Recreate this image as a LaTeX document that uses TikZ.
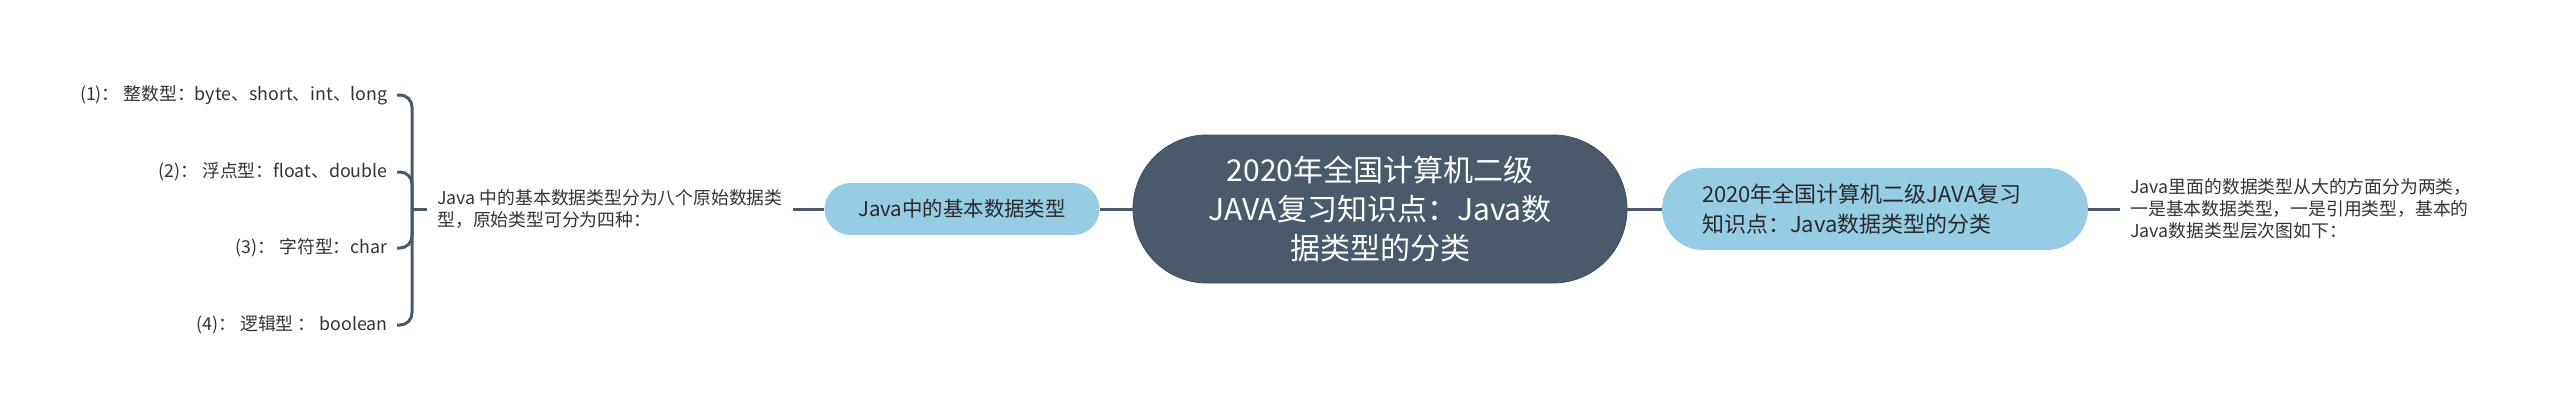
\documentclass[tikz,border=0pt]{standalone}
\usepackage{fontspec}
\setmainfont{Noto Sans CJK SC}
\usepackage{tikz}
\usetikzlibrary{positioning}
\definecolor{slate}{HTML}{4A5A6A}
\definecolor{skyblue}{HTML}{96CCE4}
\definecolor{inkgray}{HTML}{333333}
\newcommand{\smalltxt}{\fontsize{8.9}{11.1}\selectfont}
\tikzset{
  topic/.style={fill=slate,draw=slate!85!black,text=white,rounded corners=37pt,
    minimum width=247pt,minimum height=74pt,align=center,
    font=\fontsize{15}{19.3}\selectfont},
  subtopic/.style={fill=skyblue,text=inkgray!80!black,align=left},
  leaf/.style={text=inkgray,align=left,font=\smalltxt},
  branch/.style={draw=slate,line width=1.5pt},
}
\begin{document}
\begin{tikzpicture}[x=0.5pt,y=-0.5pt]
        \useasboundingbox (0,0) rectangle (2560,419);
        \node[topic] (main) at (1380,209) {2020年全国计算机二级\\JAVA复习知识点：Java数\\据类型的分类};
        \node[subtopic,rounded corners=13pt,minimum width=137.5pt,minimum height=26pt,
          font=\fontsize{10.2}{12}\selectfont] (basic) at (962,209) {Java中的基本数据类型};
        \node[subtopic,rounded corners=20.5pt,text width=173pt,inner xsep=20pt,minimum height=41pt,
          font=\fontsize{11}{15}\selectfont] (kinds) at (1875,209) {2020年全国计算机二级JAVA复习\\知识点：Java数据类型的分类};
        \node[leaf,anchor=west,inner xsep=5pt] (eight) at (427,209) {Java 中的基本数据类型分为八个原始数据类\\型，原始类型可分为四种：};
        \node[leaf,anchor=west,inner xsep=5pt] (twokinds) at (2120,209) {Java里面的数据类型从大的方面分为两类，\\一是基本数据类型，一是引用类型，基本的\\Java数据类型层次图如下：};
        \node[leaf,anchor=east,inner xsep=4.5pt] (int) at (397,95) {(1)： 整数型：byte、short、int、long};
        \node[leaf,anchor=east,inner xsep=4.5pt] (float) at (397,172) {(2)： 浮点型：float、double};
        \node[leaf,anchor=east,inner xsep=4.5pt] (char) at (397,248) {(3)： 字符型：char};
        \node[leaf,anchor=east,inner xsep=4.5pt] (bool) at (397,325) {(4)： 逻辑型 ： boolean};
        \coordinate (fork) at (412,209);

        \draw[branch] (main.west) -- (basic.east);
        \draw[branch] (basic.west) -- (eight.east);
        \draw[branch] (eight.west) -- (fork);
        \draw[branch,rounded corners=6pt] (fork) |- (int.east);
        \draw[branch,rounded corners=6pt] (fork) |- (float.east);
        \draw[branch,rounded corners=6pt] (fork) |- (char.east);
        \draw[branch,rounded corners=6pt] (fork) |- (bool.east);
        \draw[branch] (main.east) -- (kinds.west);
        \draw[branch] (kinds.east) -- (twokinds.west);
\end{tikzpicture}
\end{document}
